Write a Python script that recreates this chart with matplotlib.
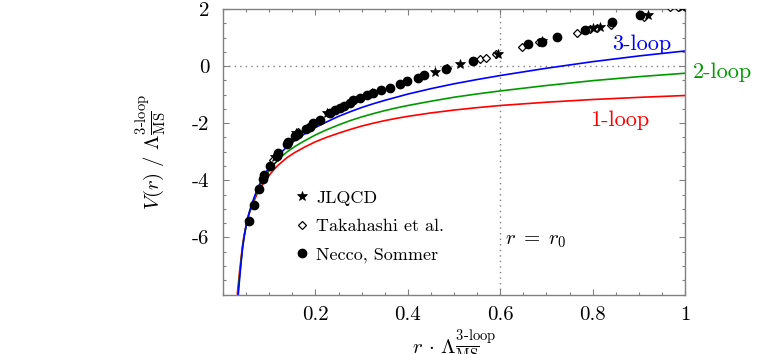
import matplotlib
matplotlib.use('Agg')
import matplotlib.pyplot as plt
from matplotlib.ticker import MultipleLocator, FixedLocator, FixedFormatter

plt.rcParams['mathtext.fontset'] = 'cm'
plt.rcParams['font.family'] = ['cmr10', 'DejaVu Serif']
plt.rcParams['axes.unicode_minus'] = False

# perturbative curves
r_curve = [0.031, 0.033, 0.036, 0.039, 0.042, 0.0455, 0.051, 0.056, 0.062, 0.068, 0.074,
           0.080, 0.087, 0.094, 0.100, 0.110, 0.120, 0.138, 0.156, 0.175, 0.200, 0.225,
           0.250, 0.275, 0.300, 0.325, 0.350, 0.375, 0.400, 0.450, 0.500, 0.550, 0.600,
           0.700, 0.800, 0.900, 1.000]
v_3loop = [-8.42, -8.00, -7.42, -6.90, -6.42, -6.00, -5.50, -5.16, -4.85, -4.57, -4.32,
           -4.11, -3.90, -3.70, -3.55, -3.32, -3.12, -2.83, -2.60, -2.39, -2.15, -1.95,
           -1.76, -1.60, -1.45, -1.32, -1.20, -1.09, -0.98, -0.79, -0.62, -0.47, -0.33,
           -0.075, 0.155, 0.355, 0.53]
v_2loop = [-8.22, -7.83, -7.32, -6.84, -6.38, -5.98, -5.50, -5.175, -4.88, -4.615, -4.38,
           -4.185, -3.99, -3.80, -3.66, -3.45, -3.27, -3.01, -2.81, -2.63, -2.41, -2.225,
           -2.06, -1.91, -1.78, -1.665, -1.56, -1.465, -1.38, -1.23, -1.09, -0.975, -0.87,
           -0.68, -0.51, -0.37, -0.25]
v_1loop = [-7.97, -7.65, -7.17, -6.73, -6.31, -5.94, -5.50, -5.20, -4.93, -4.69, -4.47,
           -4.29, -4.11, -3.94, -3.82, -3.63, -3.46, -3.21, -3.02, -2.85, -2.65, -2.49,
           -2.35, -2.22, -2.10, -2.00, -1.91, -1.83, -1.76, -1.64, -1.54, -1.455, -1.38,
           -1.265, -1.17, -1.095, -1.03]

# lattice data
jlqcd_r = [0.113, 0.159, 0.224, 0.322, 0.459, 0.513, 0.596, 0.690, 0.800, 0.816, 0.920, 0.993]
jlqcd_v = [-3.20, -2.36, -1.66, -0.94, -0.20, 0.09, 0.44, 0.88, 1.33, 1.37, 1.79, 2.08]

tak_r = [0.109, 0.163, 0.228, 0.318, 0.484, 0.556, 0.570, 0.590, 0.647, 0.683, 0.767,
         0.795, 0.810, 0.839, 0.912, 0.967, 0.985]
tak_v = [-3.30, -2.30, -1.63, -0.98, -0.08, 0.25, 0.28, 0.42, 0.68, 0.83, 1.15,
         1.30, 1.35, 1.44, 1.71, 2.06, 2.08]

ns_r = [0.056, 0.066, 0.077, 0.087, 0.089, 0.102, 0.117, 0.120, 0.138, 0.141, 0.156, 0.163,
        0.180, 0.188, 0.195, 0.210, 0.232, 0.242, 0.253, 0.262, 0.275, 0.282, 0.297, 0.311,
        0.325, 0.343, 0.361, 0.382, 0.398, 0.421, 0.434, 0.483, 0.542, 0.661, 0.690, 0.722,
        0.784, 0.843, 0.903]
ns_v = [-5.43, -4.85, -4.32, -3.94, -3.82, -3.51, -3.16, -3.06, -2.74, -2.66, -2.46, -2.39,
        -2.22, -2.13, -2.01, -1.89, -1.66, -1.54, -1.45, -1.38, -1.29, -1.19, -1.11, -1.02,
        -0.94, -0.84, -0.75, -0.61, -0.53, -0.40, -0.32, -0.10, 0.19, 0.76, 0.86, 1.03,
        1.26, 1.53, 1.79]

x_ticks = [0.2, 0.4, 0.6, 0.8, 1.0]
x_tick_labels = ['0.2', '0.4', '0.6', '0.8', '1']
y_ticks = [2, 0, -2, -4, -6]
y_tick_labels = ['2', '0', '-2', '-4', '-6']

r0_line = 0.6
zero_line = 0.0

fig = plt.figure(figsize=(7.63, 3.54), dpi=100)
ax = fig.add_axes([0.2923, 0.168, 0.6055, 0.8066])

ax.axhline(zero_line, color='#808080', ls=(0, (1, 3)), lw=1.0, zorder=1)
ax.axvline(r0_line, color='#808080', ls=(0, (1, 3)), lw=1.0, zorder=1)

ax.plot(r_curve, v_1loop, color='#ff0000', lw=1.2, zorder=2)
ax.plot(r_curve, v_2loop, color='#009a00', lw=1.2, zorder=2)
ax.plot(r_curve, v_3loop, color='#0000ff', lw=1.2, zorder=2)

h1, = ax.plot(jlqcd_r, jlqcd_v, ls='none', marker='*', ms=7, mfc='black', mec='black',
              mew=0.5, zorder=4, label='JLQCD')
h2, = ax.plot(tak_r, tak_v, ls='none', marker='D', ms=4.5, mfc='white', mec='black',
              mew=0.9, zorder=3, label='Takahashi et al.')
h3, = ax.plot(ns_r, ns_v, ls='none', marker='o', ms=6, mfc='black', mec='black',
              zorder=5, label='Necco, Sommer')

ax.set_xlim(0, 1)
ax.set_ylim(-8, 2)

ax.xaxis.set_major_locator(FixedLocator(x_ticks))
ax.xaxis.set_major_formatter(FixedFormatter(x_tick_labels))
ax.yaxis.set_major_locator(FixedLocator(y_ticks))
ax.yaxis.set_major_formatter(FixedFormatter(y_tick_labels))
ax.xaxis.set_minor_locator(MultipleLocator(0.05))
ax.yaxis.set_minor_locator(MultipleLocator(0.5))

for s in ax.spines.values():
    s.set_color('#808080')
    s.set_linewidth(1.0)
ax.tick_params(which='both', direction='in', top=True, right=True, color='#808080',
               labelsize=15, width=0.8)
ax.tick_params(which='major', length=4.5)
ax.tick_params(axis='y', which='major', pad=10)
ax.tick_params(axis='x', which='major', pad=8)
ax.tick_params(which='minor', length=2.5)

ax.set_ylabel(r'$V(r)\ /\ \Lambda^{\mathrm{3\text{-}loop}}_{\overline{\mathrm{MS}}}$', fontsize=15)
ax.yaxis.set_label_coords(-0.12, 0.5)
ax.set_xlabel(r'$r\,\cdot\,\Lambda^{\mathrm{3\text{-}loop}}_{\overline{\mathrm{MS}}}$', fontsize=15)
ax.xaxis.set_label_coords(0.5, -0.115)

ax.text(0.842, 0.77, '3-loop', color='#0000ff', fontsize=16, ha='left', va='center')
ax.text(1.017, -0.21, '2-loop', color='#009a00', fontsize=16, ha='left', va='center',
        clip_on=False)
ax.text(0.794, -1.89, '1-loop', color='#ff0000', fontsize=16, ha='left', va='center')
ax.text(0.61, -6.14, r'$r\;=\;r_0$', fontsize=15, ha='left', va='center')

leg = ax.legend(handles=[h1, h2, h3], loc='upper left', bbox_to_anchor=(0.155, 0.366),
                frameon=False, fontsize=13, handlelength=0.8, handletextpad=0.4,
                labelspacing=0.7, borderpad=0, borderaxespad=0, numpoints=1)

fig.savefig('out.png', dpi=100)
